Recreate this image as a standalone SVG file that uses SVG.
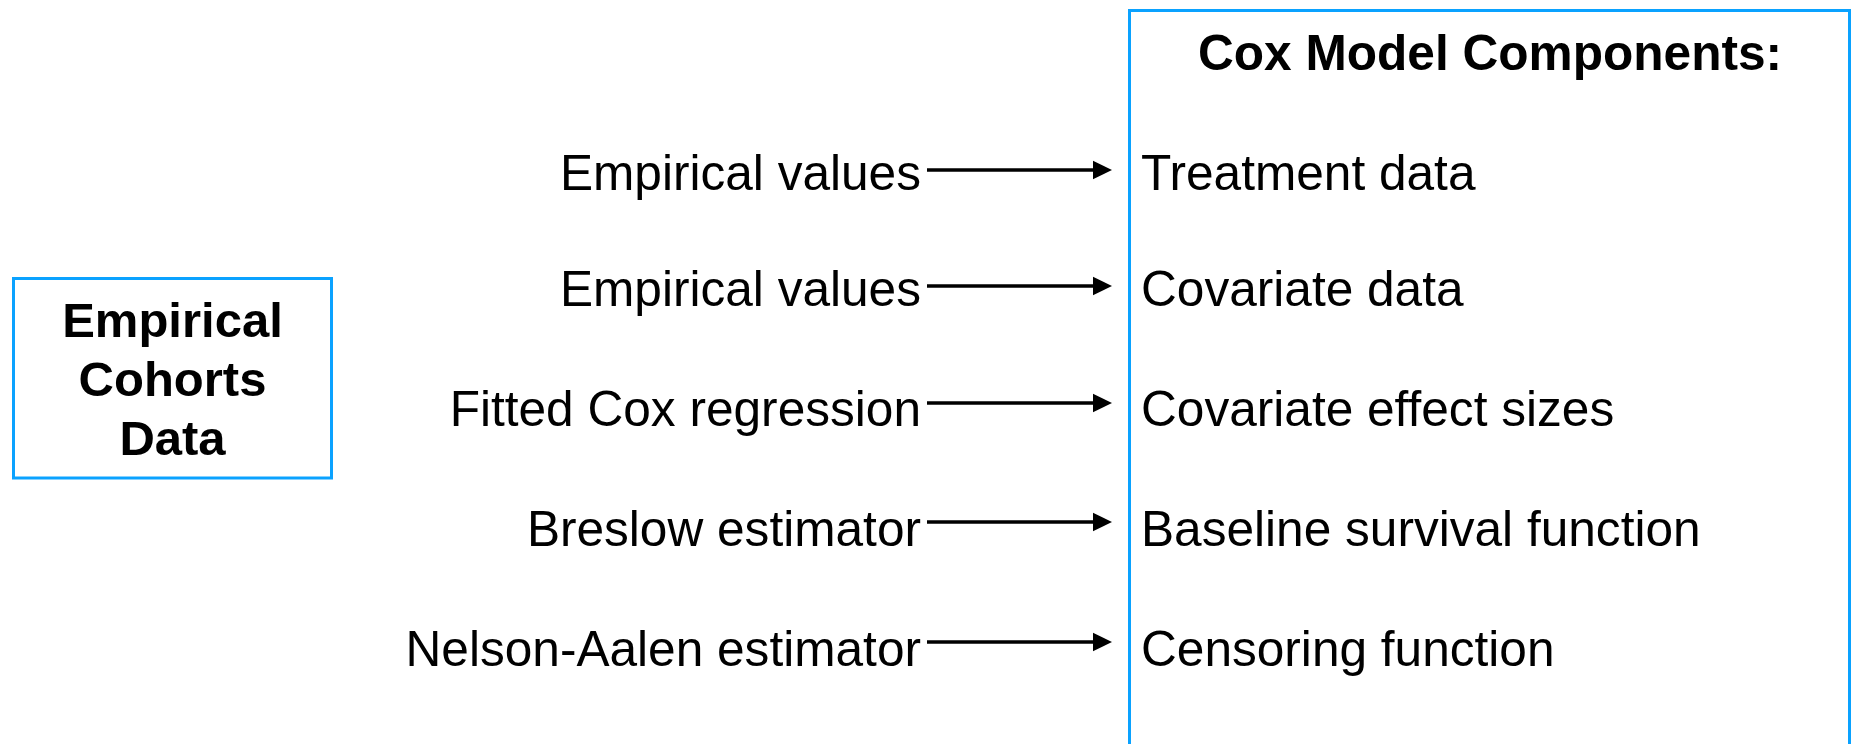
<svg xmlns="http://www.w3.org/2000/svg" width="1854" height="744" viewBox="0 0 1854 744">
<style>
.box{fill:#ffffff;stroke:#0aa2ff;stroke-width:3}
.b{font-family:"Liberation Sans",Arial,Helvetica,sans-serif;font-weight:bold;fill:#000}
.t{font-family:"Liberation Sans",Arial,Helvetica,sans-serif;font-size:49.6px;fill:#000}
.src{text-anchor:end}
.ln{stroke:#000;stroke-width:3.5;fill:none}
.hd{fill:#000}
</style>
<rect width="1854" height="744" fill="#ffffff"/>
<g id="cohorts">
<rect class="box" x="13.5" y="278.5" width="318" height="199.5"/>
<text class="b" font-size="49" text-anchor="middle" x="172.5" y="337">Empirical</text>
<text class="b" font-size="49" text-anchor="middle" x="172.5" y="396">Cohorts</text>
<text class="b" font-size="49" text-anchor="middle" x="172.5" y="455">Data</text>
</g>
<g id="components">
<rect class="box" x="1129.5" y="10.5" width="720" height="800"/>
<text class="b" font-size="49.6" text-anchor="middle" x="1490" y="70">Cox Model Components:</text>
<text class="t" x="1141" y="190">Treatment data</text>
<text class="t" x="1141" y="306">Covariate data</text>
<text class="t" x="1141" y="426">Covariate effect sizes</text>
<text class="t" x="1141" y="546">Baseline survival function</text>
<text class="t" x="1141" y="666">Censoring function</text>
</g>
<g id="sources">
<text class="t src" x="921" y="190">Empirical values</text>
<text class="t src" x="921" y="306">Empirical values</text>
<text class="t src" x="921" y="426">Fitted Cox regression</text>
<text class="t src" x="921" y="546">Breslow estimator</text>
<text class="t src" x="921" y="666">Nelson-Aalen estimator</text>
</g>
<g id="connectors">
<line class="ln" x1="927" y1="170" x2="1095" y2="170"/>
<polygon class="hd" points="1093,160.7 1112,170 1093,179.3"/>
<line class="ln" x1="927" y1="286" x2="1095" y2="286"/>
<polygon class="hd" points="1093,276.7 1112,286 1093,295.3"/>
<line class="ln" x1="927" y1="403" x2="1095" y2="403"/>
<polygon class="hd" points="1093,393.7 1112,403 1093,412.3"/>
<line class="ln" x1="927" y1="522" x2="1095" y2="522"/>
<polygon class="hd" points="1093,512.7 1112,522 1093,531.3"/>
<line class="ln" x1="927" y1="642" x2="1095" y2="642"/>
<polygon class="hd" points="1093,632.7 1112,642 1093,651.3"/>
</g>
</svg>
